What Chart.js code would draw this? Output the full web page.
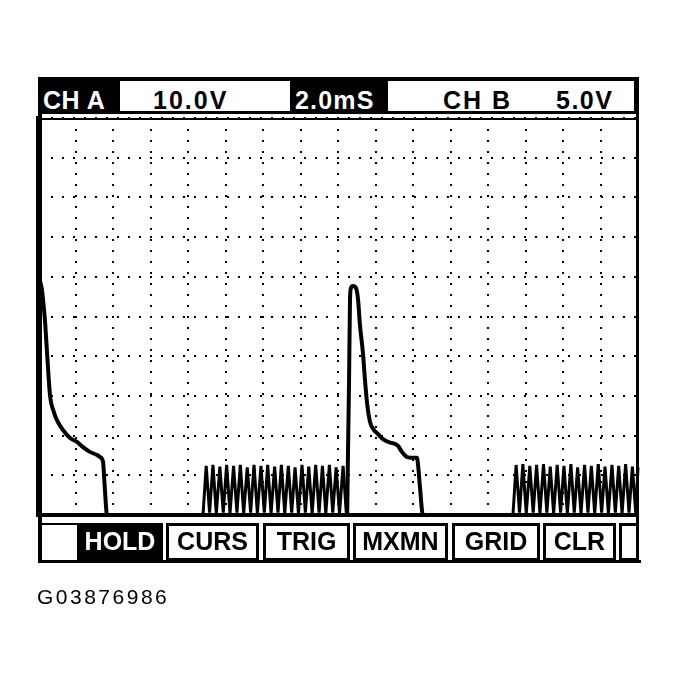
<!DOCTYPE html>
<html>
<head>
<meta charset="utf-8">
<script src="https://cdn.jsdelivr.net/npm/chart.js@4/dist/chart.umd.min.js"></script>
<style>
  html, body { margin: 0; padding: 0; background: #fff; }
  #wrap { position: relative; width: 679px; height: 683px; overflow: hidden; }
  #c { position: absolute; left: 0; top: 0; }
  .abs { position: absolute; }
  .blk { background: #000; }
  .wht { background: #fff; }
  .t { position: absolute; font-family: "Liberation Sans", Arial, sans-serif; font-weight: bold; font-size: 25px; line-height: 25px; white-space: nowrap; }
  .btn { position: absolute; box-sizing: border-box; border: 3px solid #000; background: #fff; top: 523px; height: 38px;
         font-family: "Liberation Sans", Arial, sans-serif; font-weight: bold; font-size: 25px; line-height: 30px; text-align: center; color: #000; }
</style>
</head>
<body>
<div id="wrap">
  <canvas id="c" width="679" height="683"></canvas>

  <!-- header bar -->
  <div class="abs blk" style="left:38px;top:77px;width:600px;height:37px;"></div>
  <div class="abs wht" style="left:120px;top:81px;width:170px;height:30px;"></div>
  <div class="abs wht" style="left:388px;top:81px;width:246px;height:30px;"></div>
  <div class="t" id="chA" style="left:43px;top:88px;color:#fff;letter-spacing:0.5px;">CH A</div>
  <div class="t" id="voltsA" style="left:153px;top:88px;color:#000;letter-spacing:2px;">10.0V</div>
  <div class="t" id="timeDiv" style="left:295px;top:88px;color:#fff;letter-spacing:1.2px;">2.0mS</div>
  <div class="t" id="chB" style="left:443px;top:88px;color:#000;letter-spacing:2px;">CH B</div>
  <div class="t" id="voltsB" style="left:556px;top:88px;color:#000;letter-spacing:1.5px;">5.0V</div>

  <!-- frame -->
  <div class="abs blk" style="left:38px;top:77px;width:4px;height:486px;"></div>
  <div class="abs blk" style="left:636px;top:77px;width:3px;height:486px;"></div>
  <div class="abs blk" style="left:38px;top:560px;width:603px;height:3px;"></div>
  <div class="abs blk" style="left:42px;top:118px;width:594px;height:2px;"></div>

  <!-- soft-key row -->
  <div class="abs blk" style="left:42px;top:523px;width:35px;height:2px;"></div>
  <div class="btn" style="left:77px;width:86px;background:#000;color:#fff;">HOLD</div>
  <div class="btn" style="left:166px;width:93px;">CURS</div>
  <div class="btn" style="left:263px;width:87px;">TRIG</div>
  <div class="btn" style="left:353px;width:95px;">MXMN</div>
  <div class="btn" style="left:452px;width:88px;">GRID</div>
  <div class="btn" style="left:543px;width:73px;">CLR</div>
  <div class="btn" style="left:619px;width:20px;"></div>

  <div class="t" style="left:37px;top:586px;font-weight:normal;font-size:21px;line-height:21px;letter-spacing:2.5px;color:#000;">G03876986</div>
</div>

<script>
// Scope settings
const xTickStepMs = 2;      // 2.0 mS / div
const xDivisions = 16;
const chAScale = 10;        // 10.0 V / div
const chBScale = 5;         // 5.0 V / div
const yDivisions = 10;

// Channel A, time in ms, volts
const chATime  = [0.11, 0.21, 0.27, 0.37, 0.48, 0.64, 0.85, 1.01, 1.33, 1.71, 2.08, 2.40, 2.77, 3.15, 3.31, 3.47, 3.52, 3.57, 3.68,
                  16.48, 16.53, 16.59, 16.64, 16.69, 16.80, 16.96, 17.07, 17.17, 17.33, 17.44, 17.55, 17.71, 17.92, 18.13, 18.40,
                  18.67, 19.04, 19.20, 19.41, 19.68, 19.95, 20.21, 20.27, 20.37, 20.53, 32.00];
const chAVolts = [58.9, 56.7, 54.2, 49.1, 41.1, 30.2, 25.9, 23.9, 21.4, 19.4, 18.4, 17.1, 15.9, 15.1, 14.6, 13.4, 10.1, 6.3, 0,
                  0, 14.6, 34.0, 54.2, 57.2, 57.7, 57.2, 54.2, 47.9, 40.8, 34.0, 28.2, 23.4, 21.4, 20.4, 19.1,
                  18.4, 17.9, 17.4, 15.9, 14.6, 14.4, 14.4, 12.6, 7.1, 0, 0];

// Channel B, time in ms, volts
const chBTime  = [0, 8.80, 8.97, 9.15, 9.33, 9.51, 9.70, 9.88, 10.06, 10.24, 10.43, 10.61, 10.79, 10.97, 11.16, 11.34, 11.52,
                  11.70, 11.89, 12.07, 12.25, 12.43, 12.62, 12.80, 12.98, 13.16, 13.35, 13.53, 13.71, 13.89, 14.08, 14.26,
                  14.44, 14.62, 14.81, 14.99, 15.17, 15.35, 15.54, 15.72, 15.90, 16.08, 16.27, 16.45,
                  25.33, 25.50, 25.68, 25.86, 26.04, 26.23, 26.41, 26.59, 26.77, 26.96, 27.14, 27.32, 27.50, 27.69,
                  27.87, 28.05, 28.23, 28.42, 28.60, 28.78, 28.96, 29.15, 29.33, 29.51, 29.69, 29.88, 30.06, 30.24,
                  30.42, 30.61, 30.79, 30.97, 31.15, 31.34, 31.52, 31.70, 31.88, 32.00];
const chBVolts = [0, 0, 6.2, 0.3, 6.3, 0.2, 6.1, 0.3, 6.3, 0.2, 6.2, 0.3, 6.3, 0.2, 6.0, 0.3, 6.3,
                  0.2, 6.2, 0.3, 6.3, 0.2, 6.1, 0.3, 6.3, 0.2, 6.2, 0.3, 6.0, 0.2, 6.3, 0.3,
                  6.1, 0.2, 6.3, 0.3, 6.2, 0.2, 6.3, 0.3, 6.0, 0.2, 6.2, 0,
                  0, 6.3, 0.3, 6.4, 0.2, 6.2, 0.3, 6.3, 0.2, 6.4, 0.3, 6.1, 0.2, 6.3,
                  0.3, 6.2, 0.2, 6.4, 0.3, 6.0, 0.2, 6.3, 0.3, 6.2, 0.2, 6.4, 0.3, 6.1,
                  0.2, 6.3, 0.3, 6.2, 0.2, 6.4, 0.3, 6.1, 0.2, 6.0];

const toPts = (xs, ys) => xs.map((x, i) => ({x: x, y: ys[i]}));

const gridStyle = { color: '#000', lineWidth: 2, drawTicks: false };
const gridDash = { display: true, color: '#000', width: 4, dash: [2, 9] };

new Chart(document.getElementById('c'), {
  type: 'line',
  data: {
    datasets: [
      { label: 'CH A', data: toPts(chATime, chAVolts), yAxisID: 'y', borderColor: '#000', borderWidth: 4,
        pointRadius: 0, tension: 0, cubicInterpolationMode: 'monotone', clip: 6 },
      { label: 'CH B', data: toPts(chBTime, chBVolts), yAxisID: 'yB', borderColor: '#000', borderWidth: 3,
        pointRadius: 0, tension: 0, clip: 6 }
    ]
  },
  options: {
    responsive: false,
    animation: false,
    devicePixelRatio: 1,
    layout: { padding: { left: 38, right: 41, top: 118, bottom: 168 } },
    plugins: { legend: { display: false }, tooltip: { enabled: false } },
    scales: {
      x: { type: 'linear', min: 0, max: xTickStepMs * xDivisions,
           ticks: { display: false, stepSize: xTickStepMs },
           grid: gridStyle, border: gridDash },
      y: { type: 'linear', min: 0, max: chAScale * yDivisions,
           ticks: { display: false, stepSize: chAScale },
           grid: gridStyle, border: gridDash },
      yB: { type: 'linear', display: false, min: 0, max: chBScale * yDivisions }
    }
  }
});
</script>
</body>
</html>
